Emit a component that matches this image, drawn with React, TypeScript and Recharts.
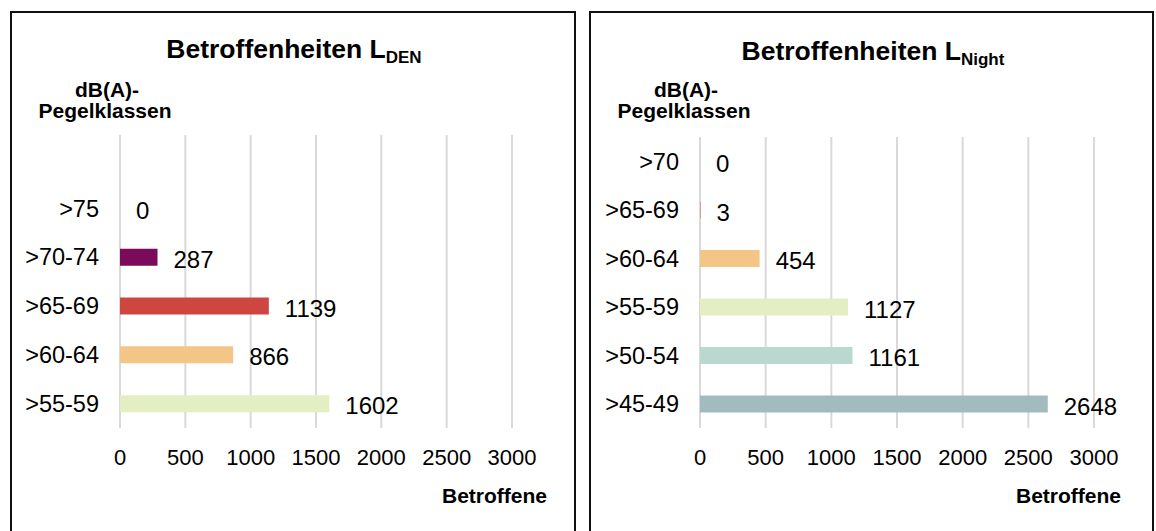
import React from 'react';
import { BarChart, Bar, XAxis, YAxis, CartesianGrid, Cell, LabelList } from 'recharts';

// ---- Data ----
const denCategories = ['', '>75', '>70-74', '>65-69', '>60-64', '>55-59'];
const denValues: (number | null)[] = [null, 0, 287, 1139, 866, 1602];
const denColors = ['transparent', 'transparent', '#7b0a5a', '#cd4740', '#f3c586', '#e3efc3'];

const nightCategories = ['>70', '>65-69', '>60-64', '>55-59', '>50-54', '>45-49'];
const nightValues: (number | null)[] = [0, 3, 454, 1127, 1161, 2648];
const nightColors = ['transparent', '#cd4740', '#f3c586', '#e3efc3', '#bad7d0', '#a1bbbf'];

const xTicks = [0, 500, 1000, 1500, 2000, 2500, 3000];

const FONT = '"Liberation Sans", Arial, Helvetica, sans-serif';

type PanelProps = {
  left: number;
  width: number;
  categories: string[];
  values: (number | null)[];
  colors: string[];
  plotTop: number;
  marginRight: number;
};

const renderValueLabel = (props: any) => {
  const { x, y, width, height, value } = props;
  if (value === null || value === undefined) return null;
  const w = Number(value) === 0 ? 0 : Number(width || 0);
  const xx = Number(x) + w + 16;
  const yy = Number(y) + Number(height || 0) / 2 + 2;
  return (
    <text
      x={xx}
      y={yy}
      dominantBaseline="central"
      fontSize={24}
      fontFamily={FONT}
      fill="#000"
    >
      {String(value)}
    </text>
  );
};

const minSize = (value: any) => (value === 0 ? 1 : 0);

function Panel({ left, width, categories, values, colors, plotTop, marginRight }: PanelProps) {
  const data = categories.map((c, i) => ({
    cat: c,
    value: values[i] === null ? undefined : values[i],
  }));
  return (
    <div style={{ position: 'absolute', left, top: 0 }}>
      <BarChart
        width={width}
        height={531}
        data={data}
        layout="vertical"
        margin={{ top: plotTop, right: marginRight, bottom: 63, left: 0 }}
      >
        <CartesianGrid horizontal={false} vertical={true} stroke="#d9d9d9" strokeWidth={2} />
        <XAxis
          type="number"
          domain={[0, 3000]}
          ticks={xTicks}
          interval={0}
          axisLine={false}
          tickLine={false}
          tickMargin={15}
          height={40}
          tick={{ fontSize: 22, fill: '#000', fontFamily: FONT }}
          allowDataOverflow
        />
        <YAxis
          type="category"
          dataKey="cat"
          width={120}
          interval={0}
          axisLine={false}
          tickLine={false}
          tickMargin={15}
          tick={{ fontSize: 23.5, fill: '#000', fontFamily: FONT }}
        />
        <Bar dataKey="value" barSize={17} minPointSize={minSize} isAnimationActive={false}>
          {data.map((d, i) => (
            <Cell key={i} fill={colors[i]} />
          ))}
          <LabelList dataKey="value" content={renderValueLabel} />
        </Bar>
      </BarChart>
    </div>
  );
}

export default function App() {
  return (
    <div
      style={{
        position: 'absolute',
        left: 0,
        top: 0,
        width: 1156,
        height: 531,
        background: '#fff',
        overflow: 'hidden',
        fontFamily: FONT,
      }}
    >
      <div
        style={{
          position: 'absolute',
          left: 10,
          top: 11,
          width: 566,
          height: 540,
          border: '2px solid #111',
          boxSizing: 'border-box',
        }}
      />
      <div
        style={{
          position: 'absolute',
          left: 589,
          top: 11,
          width: 565,
          height: 540,
          border: '2px solid #111',
          boxSizing: 'border-box',
        }}
      />
      <Panel
        left={0}
        width={580}
        categories={denCategories}
        values={denValues}
        colors={denColors}
        plotTop={135}
        marginRight={68}
      />
      <Panel
        left={580}
        width={576}
        categories={nightCategories}
        values={nightValues}
        colors={nightColors}
        plotTop={137}
        marginRight={62}
      />
      <svg
        width={1156}
        height={531}
        style={{ position: 'absolute', left: 0, top: 0, pointerEvents: 'none' }}
      >
        <g fontFamily={FONT} fill="#000" fontWeight="bold">
          <text x={294} y={58} textAnchor="middle" fontSize={26.5}>
            Betroffenheiten L
            <tspan fontSize={17} dy={5}>DEN</tspan>
          </text>
          <text x={107} y={97} textAnchor="middle" fontSize={21}>dB(A)-</text>
          <text x={105} y={118} textAnchor="middle" fontSize={21}>Pegelklassen</text>
          <text x={547} y={503} textAnchor="end" fontSize={21}>Betroffene</text>

          <text x={873} y={60} textAnchor="middle" fontSize={26.5}>
            Betroffenheiten L
            <tspan fontSize={17} dy={5}>Night</tspan>
          </text>
          <text x={686} y={97} textAnchor="middle" fontSize={21}>dB(A)-</text>
          <text x={684} y={118} textAnchor="middle" fontSize={21}>Pegelklassen</text>
          <text x={1121} y={503} textAnchor="end" fontSize={21}>Betroffene</text>
        </g>
      </svg>
    </div>
  );
}
